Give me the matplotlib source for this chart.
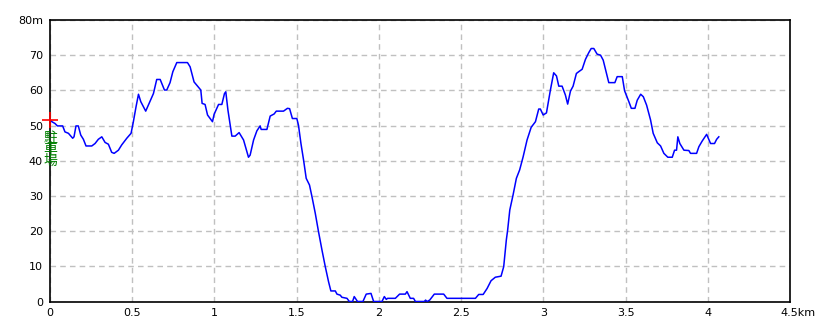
import matplotlib
matplotlib.use("Agg")
import matplotlib.pyplot as plt
import matplotlib.transforms as mtransforms

km = [0.000, 0.015, 0.030, 0.045, 0.077, 0.091, 0.112, 0.138, 0.146, 0.158, 0.172, 0.187,
      0.203, 0.219, 0.254, 0.274, 0.294, 0.315, 0.335, 0.355, 0.375, 0.390, 0.416, 0.436,
      0.467, 0.493, 0.507, 0.523, 0.538, 0.552, 0.582, 0.609, 0.629, 0.649, 0.670, 0.696,
      0.710, 0.730, 0.747, 0.771, 0.836, 0.852, 0.876, 0.897, 0.917, 0.925, 0.943, 0.958,
      0.988, 0.998, 1.025, 1.045, 1.061, 1.069, 1.082, 1.096, 1.106, 1.126, 1.150, 1.177,
      1.197, 1.207, 1.217, 1.238, 1.258, 1.278, 1.284, 1.319, 1.339, 1.363, 1.376, 1.420,
      1.444, 1.457, 1.474, 1.501, 1.511, 1.526, 1.542, 1.558, 1.578, 1.593, 1.613, 1.633,
      1.654, 1.674, 1.694, 1.708, 1.735, 1.745, 1.765, 1.775, 1.806, 1.820, 1.840, 1.850,
      1.870, 1.903, 1.923, 1.952, 1.968, 2.019, 2.033, 2.045, 2.053, 2.100, 2.126, 2.161,
      2.171, 2.191, 2.211, 2.222, 2.276, 2.284, 2.293, 2.309, 2.337, 2.394, 2.414, 2.587,
      2.607, 2.634, 2.658, 2.682, 2.708, 2.743, 2.759, 2.775, 2.783, 2.796, 2.816, 2.836,
      2.856, 2.877, 2.901, 2.926, 2.952, 2.972, 2.982, 2.999, 3.019, 3.043, 3.063, 3.080,
      3.094, 3.114, 3.134, 3.148, 3.165, 3.181, 3.201, 3.215, 3.236, 3.256, 3.276, 3.291,
      3.307, 3.327, 3.348, 3.364, 3.378, 3.398, 3.435, 3.449, 3.480, 3.494, 3.520, 3.535,
      3.557, 3.571, 3.592, 3.608, 3.628, 3.652, 3.668, 3.693, 3.713, 3.733, 3.757, 3.784,
      3.798, 3.810, 3.818, 3.830, 3.855, 3.885, 3.895, 3.932, 3.946, 3.966, 3.993, 4.017,
      4.041, 4.054, 4.067]

elev = [51.5, 51.0, 50.6, 49.9, 49.9, 48.2, 47.8, 46.4, 46.8, 49.9, 49.9, 47.3,
        46.1, 44.2, 44.2, 44.9, 46.1, 46.8, 45.2, 44.7, 42.4, 42.1, 43.0, 44.5,
        46.4, 47.8, 51.1, 55.3, 58.9, 56.8, 54.1, 57.0, 59.1, 63.1, 63.1, 60.1,
        60.1, 62.2, 65.3, 67.9, 67.9, 66.7, 62.4, 61.2, 60.1, 56.3, 56.0, 53.0,
        51.1, 53.2, 56.0, 56.0, 59.1, 59.6, 54.4, 50.1, 47.0, 47.0, 48.0, 45.9,
        42.6, 41.0, 41.6, 45.9, 48.5, 49.9, 48.9, 48.9, 52.7, 53.3, 54.1, 54.1,
        54.9, 54.8, 52.0, 52.0, 50.1, 44.9, 40.2, 35.0, 33.1, 29.8, 25.1, 19.8,
        14.6, 9.9, 5.6, 3.0, 3.0, 2.1, 1.8, 1.2, 0.9, 0.0, 0.0, 1.4,
        0.0, 0.0, 2.1, 2.3, 0.0, 0.0, 1.4, 0.6, 0.9, 0.9, 2.1, 2.1,
        2.8, 0.9, 0.9, 0.0, 0.0, 0.4, 0.0, 0.4, 2.1, 2.1, 0.9, 0.9,
        2.0, 2.0, 3.7, 5.9, 6.9, 7.2, 9.9, 17.5, 20.3, 26.0, 30.3, 35.0,
        37.4, 41.1, 45.9, 49.5, 51.1, 54.7, 54.7, 53.0, 53.6, 60.1, 65.0, 64.1,
        61.2, 61.2, 58.7, 56.1, 59.8, 61.2, 64.8, 65.3, 66.0, 68.8, 70.7, 71.9,
        71.9, 70.3, 70.0, 68.6, 66.0, 62.2, 62.2, 63.9, 63.9, 59.9, 56.8, 54.9,
        54.9, 57.2, 58.9, 58.2, 55.8, 51.6, 47.8, 45.1, 44.2, 42.1, 41.0, 41.0,
        43.0, 43.0, 46.8, 44.9, 43.0, 42.9, 42.1, 42.1, 44.0, 45.6, 47.5, 44.9,
        44.9, 46.1, 46.8]

x_ticks = [0, 0.5, 1, 1.5, 2, 2.5, 3, 3.5, 4, 4.5]
x_labels = ["0", "0.5", "1", "1.5", "2", "2.5", "3", "3.5", "4", "4.5km"]
y_ticks = [0, 10, 20, 30, 40, 50, 60, 70, 80]
y_labels = ["0", "10", "20", "30", "40", "50", "60", "70", "80m"]

marker_km = [0.0]
marker_elev = [51.6]
marker_label = "駐\n車\n場"
marker_label_elev = 43.2

W, H = 830, 332
fig = plt.figure(figsize=(W / 100, H / 100), dpi=100)
ax = fig.add_axes([50 / W, (H - 301.5) / H, 740 / W, 281.5 / H])

ax.plot(km, elev, color="#0000ff", linewidth=1.1, zorder=3)
ax.plot(marker_km, marker_elev, marker="+", color="red", markersize=11,
        markeredgewidth=1.2, linestyle="none", zorder=4, clip_on=False)
ax.text(marker_km[0], marker_label_elev, marker_label, ha="center", va="center",
        color="#008000", fontsize=10, linespacing=0.78,
        family=["Noto Sans CJK JP", "DejaVu Sans"], zorder=5, clip_on=False)

ax.set_xlim(0, 4.5)
ax.set_ylim(0, 80)
ax.set_xticks(x_ticks)
ax.set_xticklabels(x_labels)
ax.set_yticks(y_ticks)
ax.set_yticklabels(y_labels)
ax.tick_params(length=0, labelsize=8, pad=5)
ax.grid(True, color="#c0c0c0", linestyle=(0, (4, 3)), linewidth=1)
for s in ax.spines.values():
    s.set_color("black")
    s.set_linewidth(1.2)

# shift the last x label so that its number sits on the tick
last = ax.get_xticklabels()[-1]
last.set_transform(last.get_transform() +
                   mtransforms.ScaledTranslation(8 / 100, 0, fig.dpi_scale_trans))

fig.savefig("out.png", dpi=100)
